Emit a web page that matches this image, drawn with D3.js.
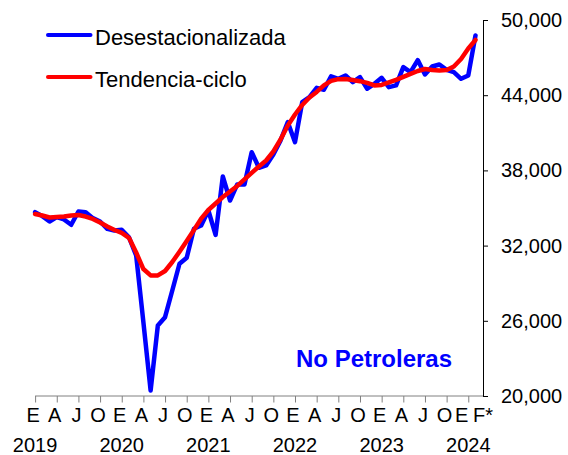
<!DOCTYPE html>
<html><head><meta charset="utf-8">
<script src="https://cdn.jsdelivr.net/npm/d3@7"></script>
<style>body{margin:0;background:#fff;} svg{display:block;font-family:"Liberation Sans",Arial,sans-serif;}</style>
</head><body><svg id="c" width="568" height="455"></svg>
<script>
const categories = [
"2019-01","2019-02","2019-03","2019-04","2019-05","2019-06","2019-07","2019-08","2019-09","2019-10","2019-11","2019-12",
"2020-01","2020-02","2020-03","2020-04","2020-05","2020-06","2020-07","2020-08","2020-09","2020-10","2020-11","2020-12",
"2021-01","2021-02","2021-03","2021-04","2021-05","2021-06","2021-07","2021-08","2021-09","2021-10","2021-11","2021-12",
"2022-01","2022-02","2022-03","2022-04","2022-05","2022-06","2022-07","2022-08","2022-09","2022-10","2022-11","2022-12",
"2023-01","2023-02","2023-03","2023-04","2023-05","2023-06","2023-07","2023-08","2023-09","2023-10","2023-11","2023-12",
"2024-01","2024-02"];
const desestacionalizada = [
34670,34350,33925,34270,34085,33660,34720,34670,34190,33925,33340,33200,
33260,32670,31210,25890,20440,25625,26290,28420,30550,31030,33340,33600,
34800,32850,37520,35600,36880,36880,39455,38210,38400,39270,40390,41850,
40250,43445,43845,44590,44435,45500,45310,45575,45040,45440,44515,44910,
45390,44640,44780,46240,45840,46800,45660,46290,46450,46030,45840,45310,
45575,48770];
const tendenciaCiclo = [
34520,34400,34245,34280,34320,34400,34440,34320,34125,33845,33525,33245,
33010,32620,31450,30130,29620,29620,29975,30690,31510,32370,33240,34150,
34840,35360,35880,36320,36760,37280,37800,38310,38790,39510,40470,41590,
42460,43220,43820,44260,44780,45140,45280,45300,45220,45120,44980,44780,
44820,45020,45220,45460,45700,45930,46090,46010,45970,46010,46290,46890,
47730,48410];
const quarterLetters = {"01":"E","04":"A","07":"J","10":"O"};
const lastLabel = "F*";
const yTicks = [20000,26000,32000,38000,44000,50000];
const seriesNames = ["Desestacionalizada","Tendencia-ciclo"];
const seriesColors = ["#0000FF","#FF0000"];
const panelTitle = "No Petroleras";

const svg = d3.select("#c");
const n = categories.length;
const x = d3.scaleLinear().domain([0, n - 1]).range([35.1, 475.5]);
const y = d3.scaleLinear().domain([20000, 50000]).range([396, 20]);
const axisRight = 483;

// x axis
const xTickIdx = categories.map((c, i) => i).filter(i => quarterLetters[categories[i].slice(5)]);
const gx = svg.append("g").attr("transform", "translate(0,396)")
  .call(d3.axisBottom(x).tickValues(xTickIdx).tickSize(6.5).tickFormat(""));
gx.select(".domain").remove();
gx.selectAll(".tick line").attr("stroke", "#808080").attr("stroke-width", 1);
svg.append("line").attr("x1", x(0)).attr("x2", axisRight).attr("y1", 396).attr("y2", 396)
  .attr("stroke", "#808080").attr("stroke-width", 1);

// x labels
const labelIdx = categories.map((c, i) => i).filter(i => quarterLetters[categories[i].slice(5)] || i === n - 1);
svg.append("g").selectAll("text").data(labelIdx).join("text")
  .attr("x", i => x(i) + (i === n - 1 ? 7.5 : (i === n - 2 ? -6.5 : -2)))
  .attr("y", 422)
  .attr("text-anchor", "middle")
  .attr("font-size", 20)
  .attr("fill", "#000")
  .text(i => i === n - 1 ? lastLabel : quarterLetters[categories[i].slice(5)]);
const yearIdx = categories.map((c, i) => i).filter(i => categories[i].slice(5) === "01");
svg.append("g").selectAll("text").data(yearIdx).join("text")
  .attr("x", i => x(i))
  .attr("y", 452)
  .attr("text-anchor", "middle")
  .attr("font-size", 20)
  .attr("fill", "#000")
  .text(i => categories[i].slice(0, 4));

// y axis (right)
const gy = svg.append("g").attr("transform", `translate(${axisRight},0)`)
  .call(d3.axisRight(y).tickValues(yTicks).tickSize(5).tickPadding(13).tickFormat(d3.format(",")));
gy.select(".domain").attr("stroke", "#000").attr("d", `M0.5,${y(50000)}V${y(20000)}`);
gy.selectAll(".tick line").attr("stroke", "#000");
gy.selectAll(".tick text").attr("font-size", 20).attr("font-family", "Liberation Sans, Arial, sans-serif").attr("fill", "#000");

// lines
const line = d3.line().x((d, i) => x(i)).y(d => y(d));
[desestacionalizada, tendenciaCiclo].forEach((s, k) => {
  svg.append("path").datum(s).attr("d", line)
    .attr("fill", "none").attr("stroke", seriesColors[k]).attr("stroke-width", 4.5)
    .attr("stroke-linejoin", "round").attr("stroke-linecap", "round");
});

// legend
const legY = [35, 77];
seriesNames.forEach((name, k) => {
  svg.append("line").attr("x1", 48).attr("x2", 90.5).attr("y1", legY[k]).attr("y2", legY[k])
    .attr("stroke", seriesColors[k]).attr("stroke-width", 4).attr("stroke-linecap", "round");
  svg.append("text").attr("x", 95).attr("y", legY[k] + 9.5).attr("font-size", 22).attr("fill", "#000").text(name);
});

// panel title
svg.append("text").attr("x", 296).attr("y", 367).attr("font-size", 24).attr("font-weight", "bold")
  .attr("fill", "#0000FF").text(panelTitle);
</script></body></html>
